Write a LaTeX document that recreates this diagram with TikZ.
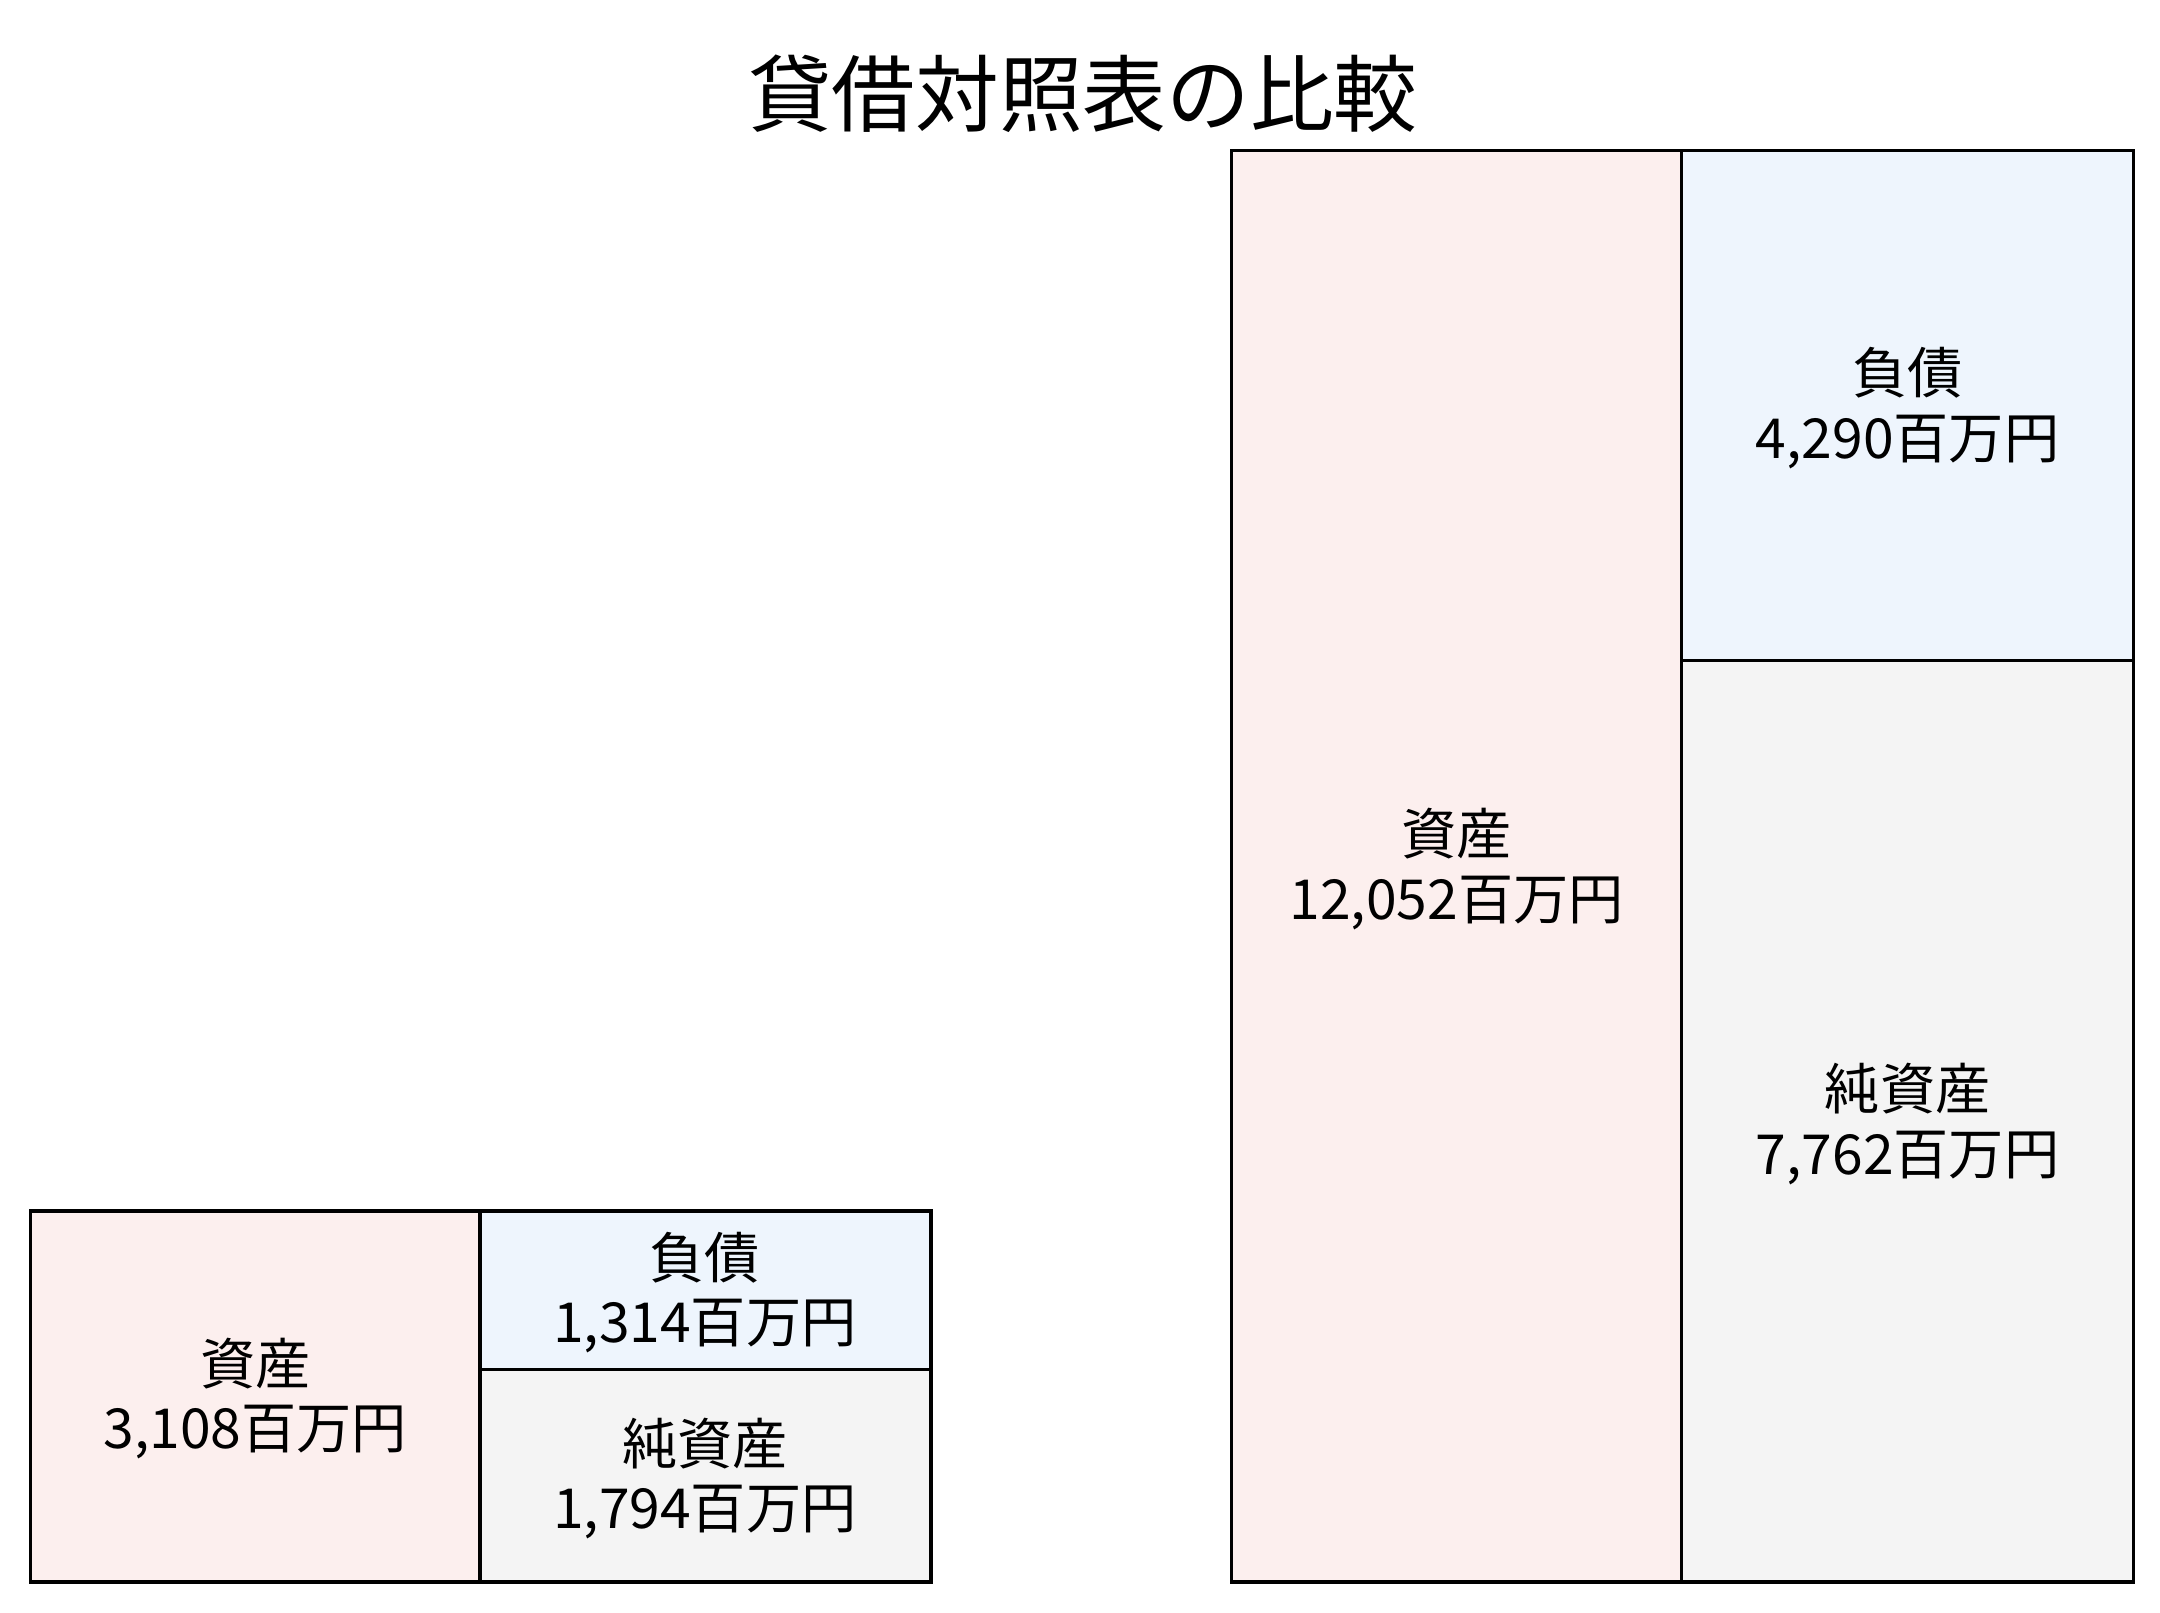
\documentclass[tikz,border=0pt]{standalone}
\usepackage{fontspec}
\setmainfont{Noto Sans CJK JP}
\definecolor{assetpink}{RGB}{252,239,238}
\definecolor{debtblue}{RGB}{238,245,253}
\definecolor{equitygray}{RGB}{244,244,244}
\tikzset{
  box/.style={line width=1.8pt},
  lbl/.style={align=center, inner sep=0.75pt, font=\fontsize{30}{35}\selectfont},
}

\begin{document}
\begin{tikzpicture}[x=0.75pt,y=0.75pt,yscale=-1,xscale=1]
\path (0,0) rectangle (1566,1169); %set diagram size

% Text Node
\draw (785,68) node [inner sep=0.75pt, font=\fontsize{45.5}{50}\selectfont] (title) {貸借対照表の比較};

%Shape: Rectangle [small assets]
\draw [box, fill=assetpink] (22,878) -- (348,878) -- (348,1147) -- (22,1147) -- cycle ;
%Shape: Rectangle [small liabilities]
\draw [box, fill=debtblue] (348,878) -- (675,878) -- (675,993) -- (348,993) -- cycle ;
%Shape: Rectangle [small net assets]
\draw [box, fill=equitygray] (348,993) -- (675,993) -- (675,1147) -- (348,1147) -- cycle ;

%Shape: Rectangle [large assets]
\draw [box, fill=assetpink] (893,109) -- (1219,109) -- (1219,1147) -- (893,1147) -- cycle ;
%Shape: Rectangle [large liabilities]
\draw [box, fill=debtblue] (1219,109) -- (1547,109) -- (1547,479) -- (1219,479) -- cycle ;
%Shape: Rectangle [large net assets]
\draw [box, fill=equitygray] (1219,479) -- (1547,479) -- (1547,1147) -- (1219,1147) -- cycle ;

% Text Node
\draw (185,1014) node [lbl] (sAsset) {資産\\3,108百万円};
% Text Node
\draw (511,937) node [lbl] (sDebt) {負債\\1,314百万円};
% Text Node
\draw (511,1072) node [lbl] (sEquity) {純資産\\1,794百万円};
% Text Node
\draw (1056,630) node [lbl] (lAsset) {資産\\12,052百万円};
% Text Node
\draw (1383,296) node [lbl] (lDebt) {負債\\4,290百万円};
% Text Node
\draw (1383,815) node [lbl] (lEquity) {純資産\\7,762百万円};

\end{tikzpicture}
\end{document}
